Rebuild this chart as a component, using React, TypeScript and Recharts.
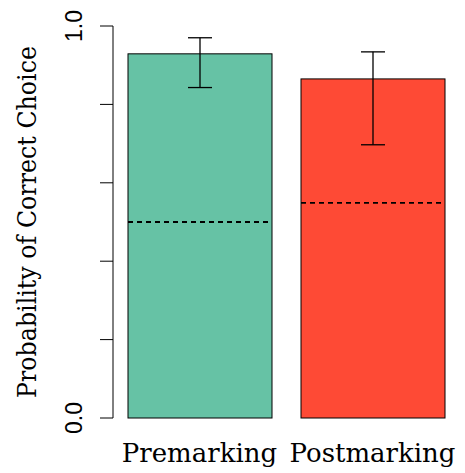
import React from "react";
import { BarChart, Bar, XAxis, YAxis, ErrorBar, Cell } from "recharts";

const conditions = ["Premarking", "Postmarking"];
const probCorrect = [0.929, 0.865];
const ciLower = [0.843, 0.697];
const ciUpper = [0.970, 0.934];
const chanceLevel = [0.5, 0.549];
const barColors = ["#66C2A5", "#FE4A35"];
const yTicks = [0, 0.2, 0.4, 0.6, 0.8, 1];
const yTickLabels: Record<number, string> = { 0: "0.0", 1: "1.0" };

const data = conditions.map((name, i) => ({
  name,
  value: probCorrect[i],
  err: [probCorrect[i] - ciLower[i], ciUpper[i] - probCorrect[i]],
  chance: chanceLevel[i],
}));

const serif = "'DejaVu Serif', 'Liberation Serif', serif";

// bar with the dashed chance line drawn inside it
const BarWithChance = (props: any) => {
  const { x, y, width, height, fill, payload } = props;
  const cy = y + height * (1 - payload.chance / payload.value);
  return (
    <g>
      <rect x={x} y={y} width={width} height={height} fill={fill} stroke="#000" strokeWidth={1} />
      <line x1={x} x2={x + width - 3} y1={cy} y2={cy} stroke="#000" strokeWidth={1.8} strokeDasharray="5 4" />
    </g>
  );
};

const YTick = (props: any) => {
  const { y, payload } = props;
  const label = yTickLabels[payload.value];
  if (!label) return null;
  const bx = 82;
  return (
    <text
      x={bx}
      y={y}
      transform={`rotate(-90, ${bx}, ${y})`}
      textAnchor="middle"
      style={{ fontFamily: "'Liberation Sans', Arial, sans-serif", fontSize: "23px" }}
      fill="#000"
    >
      {label}
    </text>
  );
};

const XTick = (props: any) => {
  const { x, payload } = props;
  return (
    <text
      x={x}
      y={462}
      textAnchor="middle"
      style={{ fontFamily: serif, fontSize: "26px" }}
      fill="#000"
    >
      {payload.value}
    </text>
  );
};

const YLabel = () => (
  <text
    x={36}
    y={222}
    transform="rotate(-90, 36, 222)"
    textAnchor="middle"
    style={{ fontFamily: serif, fontSize: "26px" }}
    textLength={352}
    lengthAdjust="spacingAndGlyphs"
    fill="#000"
  >
    Probability of Correct Choice
  </text>
);

export default function App() {
  return (
    <div style={{ position: "absolute", left: 0, top: 0, width: 465, height: 473, background: "#fff" }}>
      <BarChart
        width={465}
        height={473}
        data={data}
        margin={{ top: 26, right: 6, bottom: 0, left: 0 }}
        barSize={144}
      >
        <XAxis
          dataKey="name"
          axisLine={false}
          tickLine={false}
          height={55}
          tick={<XTick />}
          interval={0}
        />
        <YAxis
          domain={[0, 1]}
          ticks={yTicks}
          width={113}
          tickSize={13}
          axisLine={{ stroke: "#000" }}
          tickLine={{ stroke: "#000" }}
          tick={<YTick />}
          label={<YLabel />}
        />
        <Bar dataKey="value" shape={<BarWithChance />} isAnimationActive={false}>
          {data.map((d, i) => (
            <Cell key={d.name} fill={barColors[i]} />
          ))}
          <ErrorBar dataKey="err" width={12} stroke="#000" strokeWidth={1.3} />
        </Bar>
      </BarChart>
    </div>
  );
}
